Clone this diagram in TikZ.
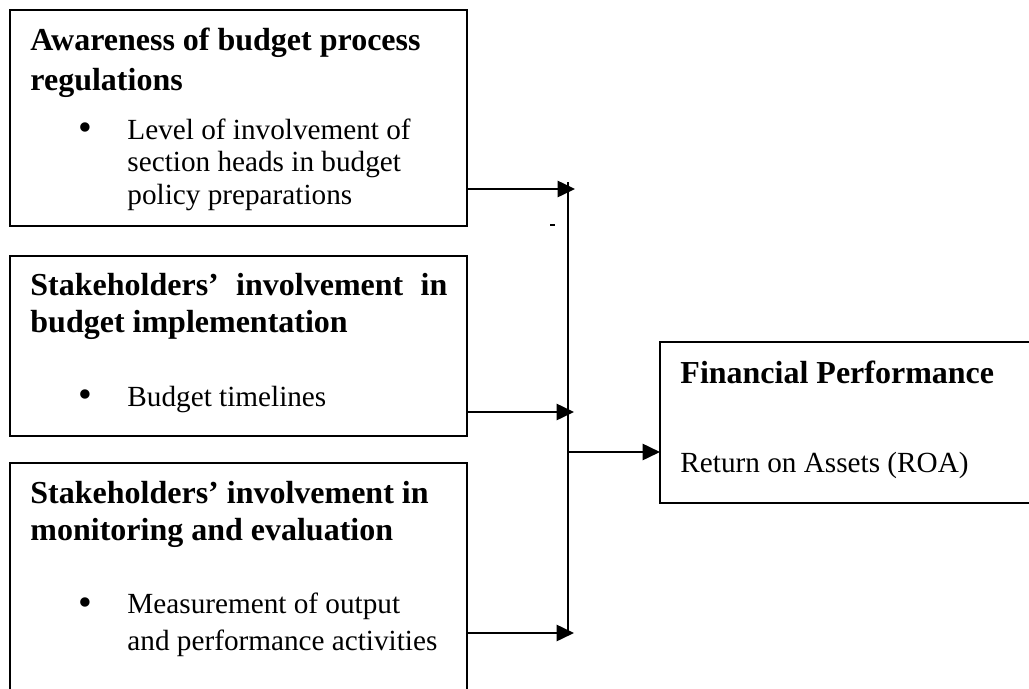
\documentclass[tikz,border=0pt]{standalone}
\usepackage{fontspec}
\setmainfont{Liberation Serif}
\usetikzlibrary{arrows.meta,fit}

\begin{document}
\begin{tikzpicture}[x=0.4329pt,y=-0.4329pt,
    box/.style={draw,line width=0.8pt,inner sep=0pt,outer sep=0pt},
    head/.style={anchor=base west,inner sep=0pt,align=left,font=\fontsize{13.85}{16}\selectfont\bfseries},
    txt/.style={anchor=base west,inner sep=0pt,align=left,font=\fontsize{12.65}{14}\selectfont},
    dot/.style={anchor=base,inner sep=0pt,font=\fontsize{17}{14}\selectfont},
    link/.style={line width=0.9pt,-{Triangle[length=7.5pt,width=7pt]}}]
    \useasboundingbox (0,0) rectangle (1029,689);
    \clip (0,0) rectangle (1029,689);
    % boxes on the left
    \node[box,fit={(10,10) (467,226)}] (aware) {};
    \node[box,fit={(10,256) (467,436)}] (implem) {};
    \node[box,fit={(10,463) (467,720)}] (monit) {};
    % outcome box
    \node[box,fit={(660,342) (1060,503)}] (perf) {};

    % multi-line texts sit on the baseline of their last line
    \node[head,font=\fontsize{13.85}{17.3}\selectfont\bfseries] (awareh) at (30,90) {Awareness of budget process\\regulations};
    \node[dot] (awared) at (85,140) {\textbullet};
    \node[txt] (awaret) at (127,204) {Level of involvement of\\section heads in budget\\policy preparations};

    \node[head] (implemh) at (30,332) {\makebox[180.5pt][s]{Stakeholders' involvement in}\\budget implementation};
    \node[dot] (implemd) at (85,407) {\textbullet};
    \node[txt] (implemt) at (127,406) {Budget timelines};

    \node[head] (monith) at (30,540) {Stakeholders' involvement in\\monitoring and evaluation};
    \node[dot] (monitd) at (85,615) {\textbullet};
    \node[txt,font=\fontsize{12.65}{16}\selectfont] (monitt) at (127,650) {Measurement of output\\and performance activities};

    \node[head] (perfh) at (680,383) {Financial Performance};
    \node[txt] (perft) at (680,472) {Return on Assets (ROA)};

    % connectors
    \coordinate (a1) at (575,189);
    \coordinate (a2) at (574,412);
    \coordinate (a3) at (574,633);
    \coordinate (vtop) at (568,182);
    \coordinate (vbot) at (568,633);
    \coordinate (mid) at (568,452);
    \draw[line width=0.9pt] (vtop) -- (vbot);
    \draw[link] (aware.east |- a1) -- (a1);
    \draw[link] (implem.east |- a2) -- (a2);
    \draw[link] (monit.east |- a3) -- (a3);
    \draw[link] (mid) -- (perf.west |- mid);
    \draw[line width=0.5pt] (550,225) -- (555,225);
\end{tikzpicture}
\end{document}
